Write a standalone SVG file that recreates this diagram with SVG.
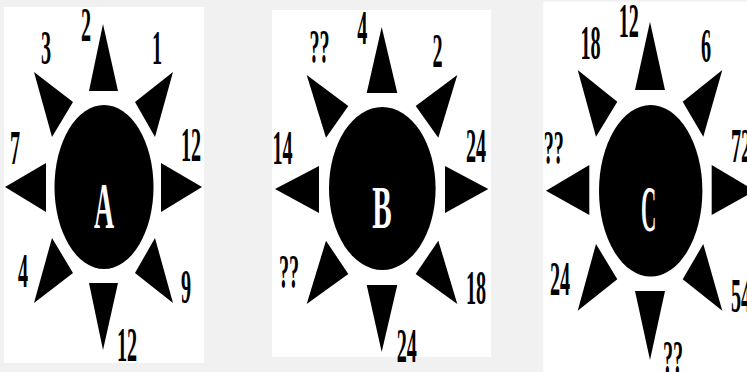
<svg xmlns="http://www.w3.org/2000/svg" width="747" height="372" viewBox="0 0 747 372">
<style>
.bg{fill:#f1f1f1}
.panel{fill:#ffffff}
.sh{fill:#000000}
.num{font-family:"Liberation Serif","Times New Roman",serif;font-weight:bold;font-size:48px;fill:#000000;text-anchor:middle}
.let{font-family:"Liberation Serif","Times New Roman",serif;font-weight:bold;font-size:66px;fill:#ffffff;text-anchor:middle}
</style>
<rect class="bg" x="0" y="0" width="747" height="372"/>
<g id="sunA">
<rect class="panel" x="4" y="7" width="200" height="356"/>
<ellipse class="sh" cx="104" cy="187" rx="49.5" ry="82"/>
<polygon class="sh" points="103,24 118,91 89,91"/>
<polygon class="sh" points="89,283 118,283 103,350"/>
<polygon class="sh" points="5,187 46,163 46,212"/>
<polygon class="sh" points="202,187 161,163 161,212"/>
<polygon class="sh" points="34,72 73,102 52,137"/>
<polygon class="sh" points="173,72 135,102 155,137"/>
<polygon class="sh" points="34,303 73,273 52,238"/>
<polygon class="sh" points="173,303 135,273 155,238"/>
<text class="let" transform="translate(104,228) scale(0.42,1)">A</text>
<text class="num" transform="translate(86,41) scale(0.42,1)">2</text>
<text class="num" transform="translate(46,64) scale(0.42,1)">3</text>
<text class="num" transform="translate(157,64) scale(0.42,1)">1</text>
<text class="num" transform="translate(15,164) scale(0.42,1)">7</text>
<text class="num" transform="translate(191,161) scale(0.42,1)">12</text>
<text class="num" transform="translate(23,287) scale(0.42,1)">4</text>
<text class="num" transform="translate(186,303) scale(0.42,1)">9</text>
<text class="num" transform="translate(127,361) scale(0.42,1)">12</text>
</g>
<g id="sunB">
<rect class="panel" x="272" y="10" width="219" height="347"/>
<ellipse class="sh" cx="382.3" cy="188.5" rx="53.3" ry="81.5"/>
<polygon class="sh" points="381.7,27 397.3,93 366.7,93"/>
<polygon class="sh" points="366.7,285 397.3,285 381.7,352"/>
<polygon class="sh" points="275,189 319,166 319,213"/>
<polygon class="sh" points="488.3,189 445,166 445,213"/>
<polygon class="sh" points="306.7,75 348.3,106 326,137.7"/>
<polygon class="sh" points="457.3,75 415.7,106 438.3,137.7"/>
<polygon class="sh" points="306.7,304 348.3,274 326,240.7"/>
<polygon class="sh" points="457.3,304 415.7,274 438.3,240.7"/>
<text class="let" transform="translate(382,228) scale(0.44,0.94)">B</text>
<text class="num" transform="translate(362.3,44) scale(0.42,1)">4</text>
<text class="num" transform="translate(319.5,63) scale(0.42,1)">??</text>
<text class="num" transform="translate(437.5,67) scale(0.42,1)">2</text>
<text class="num" transform="translate(282.5,164) scale(0.42,1)">14</text>
<text class="num" transform="translate(476,162) scale(0.42,1)">24</text>
<text class="num" transform="translate(289,288) scale(0.42,1)">??</text>
<text class="num" transform="translate(476,304) scale(0.42,1)">18</text>
<text class="num" transform="translate(406.7,362) scale(0.42,1)">24</text>
</g>
<g id="sunC">
<rect class="panel" x="543.3" y="1.7" width="210" height="380"/>
<ellipse class="sh" cx="650.7" cy="190.8" rx="51.7" ry="85.8"/>
<polygon class="sh" points="650,21.7 665,90 635,90"/>
<polygon class="sh" points="635,291 665,291 650,360"/>
<polygon class="sh" points="546,190.7 589.3,165 589.3,215"/>
<polygon class="sh" points="755,190.7 711.7,165 711.7,215"/>
<polygon class="sh" points="577.7,70 617.3,101.7 596,136.7"/>
<polygon class="sh" points="722.3,70 682.7,101.7 703.3,136.7"/>
<polygon class="sh" points="577.7,310.7 617.3,279.3 596,244"/>
<polygon class="sh" points="722.3,310.7 682.7,279.3 703.3,244"/>
<text class="let" transform="translate(648.5,231) scale(0.32,1)">C</text>
<text class="num" transform="translate(590.5,59) scale(0.42,1)">18</text>
<text class="num" transform="translate(628.7,37) scale(0.42,1)">12</text>
<text class="num" transform="translate(706,62) scale(0.42,1)">6</text>
<text class="num" transform="translate(553.7,164) scale(0.42,1)">??</text>
<text class="num" transform="translate(741,162) scale(0.42,1)">72</text>
<text class="num" transform="translate(560,295) scale(0.42,1)">24</text>
<text class="num" transform="translate(741,312) scale(0.42,1)">54</text>
<text class="num" transform="translate(673,374) scale(0.42,1)">??</text>
</g>
</svg>
